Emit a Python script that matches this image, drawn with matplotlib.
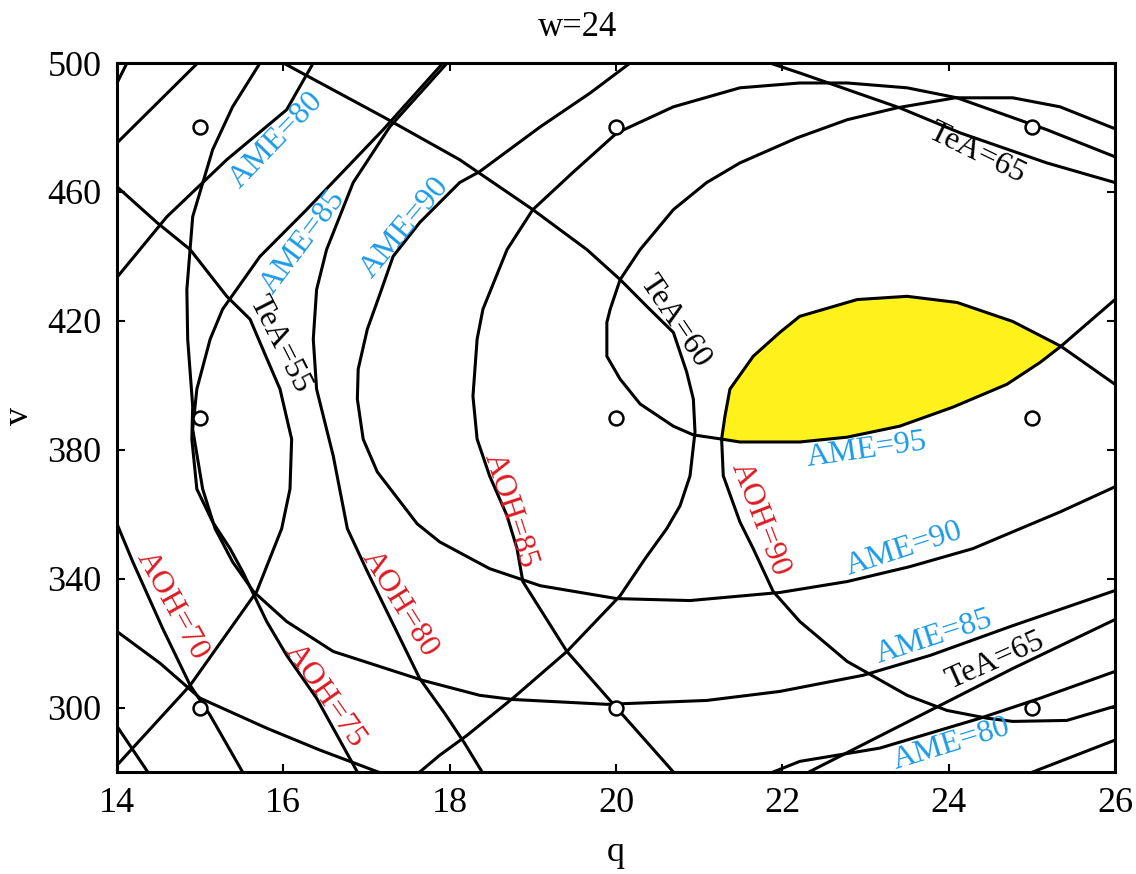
import numpy as np
import matplotlib.pyplot as plt

plt.rcParams['font.family'] = ['Liberation Serif', 'DejaVu Serif']

# design points at w=24
design_q = [15, 20, 25, 15, 20, 25, 15, 20, 25]
design_v = [480, 480, 480, 390, 390, 390, 300, 300, 300]

# ---- AME contours ----
ame75_top_q = [14.0, 14.97]
ame75_top_v = [475.2, 500.0]
ame75_left_q = [14.0, 14.37]
ame75_left_v = [294.2, 280.0]
ame75_right_q = [25.01, 26.0]
ame75_right_v = [280.0, 289.9]

ame80_top_q = [14.0, 14.60, 15.32, 16.04, 16.36]
ame80_top_v = [433.5, 452.3, 470.0, 485.5, 500.0]
ame80_left_q = [14.0, 14.52, 15.00, 15.80, 16.44, 17.14]
ame80_left_v = [323.6, 313.7, 302.9, 293.6, 286.8, 280.0]
ame80_right_q = [21.89, 22.21, 23.17, 24.38, 25.10, 26.0]
ame80_right_v = [280.0, 283.3, 287.4, 296.7, 302.9, 311.2]

ame85_q = [17.92, 17.20, 16.28, 15.72, 15.27, 15.12, 14.96, 14.91, 15.03, 15.18, 15.39, 15.64,
           16.04, 16.60, 17.68, 18.36, 18.76, 19.89, 21.09, 21.97, 22.97, 23.78, 24.77, 26.0]
ame85_v = [500.0, 479.3, 454.5, 440.0, 423.6, 414.3, 398.8, 386.4, 367.8, 355.5, 345.2, 336.0,
           326.7, 317.4, 308.4, 303.8, 302.5, 301.0, 302.2, 305.0, 310.0, 316.2, 325.4, 336.3]

ame90_q = [20.17, 19.69, 19.09, 18.36, 18.12, 17.64, 17.32, 17.16, 17.01, 16.90, 16.89, 16.96, 17.13,
           17.61, 17.88, 18.48, 19.09, 20.01, 20.89, 21.97, 22.78, 23.53, 24.29, 24.86, 25.34, 26.0]
ame90_v = [500.0, 490.7, 480.2, 466.3, 462.9, 450.5, 440.0, 428.2, 417.4, 405.0, 395.7, 383.3, 373.1,
           357.0, 351.4, 343.1, 337.8, 333.8, 333.2, 335.7, 339.1, 343.7, 349.3, 355.5, 360.7, 368.5]

ame95_q = [26.0, 25.34, 24.77, 24.08, 23.38, 22.78, 22.18, 21.49, 21.09, 20.69, 20.29, 20.05, 19.93,
           19.89, 19.89, 20.05, 20.29, 20.69, 20.93, 21.27, 21.49, 22.21, 22.78, 23.41, 24.05, 24.70,
           25.10, 25.35, 26.0]
ame95_v = [479.6, 486.4, 489.2, 489.2, 486.1, 482.4, 476.8, 469.0, 462.9, 454.5, 442.1, 432.8, 423.6,
           419.5, 409.0, 401.9, 394.2, 387.3, 384.6, 383.3, 382.4, 382.4, 383.9, 387.3, 393.2, 400.3,
           407.1, 412.1, 426.6]

# ---- AOH contours ----
aoh70_top_q = [14.0, 14.12]
aoh70_top_v = [493.8, 500.0]
aoh70_q = [14.0, 14.19, 14.55, 14.88, 15.12, 15.51]
aoh70_v = [357.0, 345.2, 324.5, 306.9, 297.6, 280.0]

aoh75_q = [15.72, 15.39, 15.15, 14.91, 14.84, 14.85, 14.91, 14.90, 14.96, 15.15, 15.36, 15.51,
           15.80, 16.04, 16.40, 16.89]
aoh75_v = [500.0, 486.4, 473.1, 452.3, 429.7, 414.3, 393.5, 383.3, 367.8, 357.6, 349.3, 342.2,
           326.7, 316.2, 302.9, 280.0]

aoh80_q = [17.97, 17.28, 16.84, 16.52, 16.40, 16.36, 16.40, 16.60, 16.77, 17.01, 17.64, 17.94, 18.18, 18.39]
aoh80_v = [500.0, 480.2, 462.9, 442.1, 429.7, 414.3, 398.8, 378.1, 355.5, 342.2, 309.0, 298.2, 288.9, 280.0]

aoh85_q = [26.0, 25.18, 24.10, 23.50, 22.78, 22.21, 21.49, 20.69, 20.01, 19.48, 19.00, 18.69, 18.40,
           18.33, 18.28, 18.33, 18.48, 18.69, 18.81, 18.88, 19.41, 20.01, 20.69]
aoh85_v = [470.9, 479.3, 489.2, 492.3, 493.8, 493.8, 492.3, 486.4, 478.3, 466.0, 454.5, 442.1, 423.6,
           414.3, 396.6, 383.3, 371.9, 359.5, 349.3, 339.1, 317.4, 299.8, 280.0]

aoh90_q = [26.0, 25.35, 24.77, 24.10, 23.50, 22.90, 22.21, 21.97, 21.65, 21.37, 21.31, 21.27,
           21.29, 21.49, 21.65, 21.89, 22.21, 22.78, 23.50, 23.98, 24.46, 24.77, 25.42, 26.0]
aoh90_v = [400.3, 412.1, 419.8, 425.7, 427.6, 426.6, 421.4, 416.4, 409.0, 398.8, 390.4, 383.3,
           371.9, 357.6, 349.3, 336.0, 326.7, 314.3, 303.8, 299.1, 296.7, 295.7, 296.0, 300.4]

# ---- TeA contours ----
tea55_q = [14.0, 14.48, 14.88, 15.32, 15.60, 15.78, 15.96, 16.10, 16.08, 15.98, 15.68, 14.88, 14.0]
tea55_v = [461.6, 450.5, 442.1, 427.6, 420.5, 409.6, 398.8, 383.3, 367.8, 355.5, 336.0, 306.9, 282.1]

tea60_q = [16.00, 17.20, 18.12, 19.00, 19.65, 20.05, 20.37, 20.69, 20.85, 20.93, 20.95, 20.89,
           20.77, 20.61, 20.35, 20.05, 19.41, 18.76, 18.21, 17.88, 17.64]
tea60_v = [500.0, 483.3, 470.0, 454.5, 442.1, 432.8, 424.5, 416.4, 404.1, 395.7, 385.5, 371.9,
           362.6, 355.5, 346.2, 334.7, 317.4, 302.9, 291.4, 285.2, 280.0]

tea65_top_q = [21.85, 22.21, 23.41, 24.14, 25.18, 26.0]
tea65_top_v = [500.0, 496.9, 486.1, 478.3, 469.0, 462.9]
tea65_bot_q = [22.32, 23.90, 24.77, 26.0]
tea65_bot_v = [280.0, 300.7, 312.1, 327.3]

curves = [
    (ame75_top_q, ame75_top_v), (ame75_left_q, ame75_left_v), (ame75_right_q, ame75_right_v),
    (ame80_top_q, ame80_top_v), (ame80_left_q, ame80_left_v), (ame80_right_q, ame80_right_v),
    (ame85_q, ame85_v), (ame90_q, ame90_v), (ame95_q, ame95_v),
    (aoh70_top_q, aoh70_top_v), (aoh70_q, aoh70_v), (aoh75_q, aoh75_v), (aoh80_q, aoh80_v),
    (aoh85_q, aoh85_v), (aoh90_q, aoh90_v),
    (tea55_q, tea55_v), (tea60_q, tea60_v), (tea65_top_q, tea65_top_v), (tea65_bot_q, tea65_bot_v),
]

BLUE = '#1d9be6'
RED = '#dc1a22'

fig = plt.figure(figsize=(11.36, 8.74), dpi=100)
ax = fig.add_axes([117 / 1136, 1 - 772 / 874, 998 / 1136, 709 / 874])

# feasible region: AME > 95 and AOH > 90
yellow_q = aoh90_q[1:12] + ame95_q[20:27]
yellow_v = aoh90_v[1:12] + ame95_v[20:27]
ax.fill(yellow_q, yellow_v, color='#fff21c', zorder=1)

for cq, cv in curves:
    ax.plot(cq, cv, color='black', lw=2.2, solid_joinstyle='round', zorder=2)

ax.plot(design_q, design_v, 'o', ms=10, mfc='white', mec='black', mew=1.8, zorder=4)

labels = [
    ('AME=80', BLUE, 15.92, 476.2, 46),
    ('AME=85', BLUE, 16.24, 444.6, 53),
    ('AME=90', BLUE, 17.46, 448.9, 50),
    ('TeA=55', 'black', 15.96, 412.7, -63),
    ('TeA=60', 'black', 20.71, 419.8, -56),
    ('TeA=65', 'black', 24.34, 472.1, -26),
    ('AME=95', BLUE, 23.01, 379.9, 8),
    ('AOH=90', RED, 21.73, 358.6, -69),
    ('AOH=85', RED, 18.73, 361.0, -72),
    ('AOH=80', RED, 17.40, 332.3, -58),
    ('AOH=75', RED, 16.50, 303.8, -55),
    ('AOH=70', RED, 14.66, 331.6, -61),
    ('AME=90', BLUE, 23.47, 349.3, 18),
    ('AME=85', BLUE, 23.82, 322.0, 18),
    ('TeA=65', 'black', 24.56, 314.6, 24),
    ('AME=80', BLUE, 24.03, 288.6, 17),
]
for txt, col, lq, lv, rot in labels:
    ax.text(lq, lv, txt, color=col, fontsize=23, rotation=rot, rotation_mode='anchor',
            ha='center', va='center', zorder=5)

ax.set_xlim(14, 26)
ax.set_ylim(280, 500)
ax.set_xticks(np.arange(14, 27, 2))
ax.set_yticks(np.arange(300, 501, 40))
ax.tick_params(direction='in', length=6, width=1.5, top=True, right=True,
               labelsize=26, pad=11)
for sp in ax.spines.values():
    sp.set_linewidth(2.2)

fig.text(578 / 1136, 1 - 28 / 874, 'w=24', fontsize=25, ha='center', va='center')
fig.text(616 / 1136, 1 - 861 / 874, 'q', fontsize=26, ha='center', va='baseline')
fig.text(20 / 1136, 1 - 416 / 874, 'v', fontsize=26, rotation=90, ha='center', va='center')

fig.savefig('out.png', dpi=100)
